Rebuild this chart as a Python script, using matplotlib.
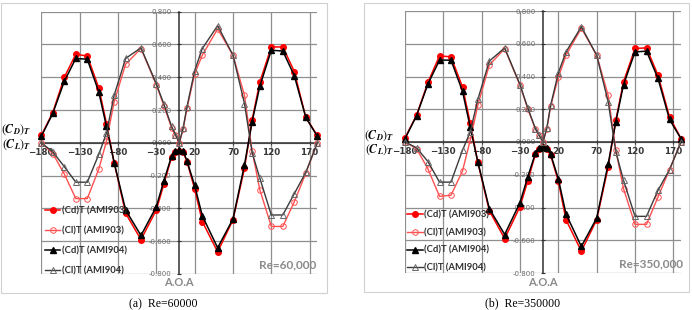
import matplotlib.pyplot as plt
from matplotlib.patches import Rectangle

plt.rcParams['mathtext.fontset'] = 'stix'

aoa = [-180, -165, -150, -135, -120, -105, -95, -85, -70, -50, -30, -20, -10, -5, 0,
       5, 10, 20, 30, 50, 70, 85, 95, 105, 120, 135, 150, 165, 180]

# Re = 60,000
cd903_a = [0.045, 0.185, 0.40, 0.54, 0.53, 0.335, 0.118, -0.12, -0.43, -0.59, -0.41, -0.25, -0.085, -0.055, -0.05,
           -0.055, -0.115, -0.28, -0.48, -0.665, -0.47, -0.155, 0.14, 0.37, 0.585, 0.585, 0.435, 0.155, 0.045]
cl903_a = [0.0, -0.065, -0.19, -0.34, -0.34, -0.16, 0.01, 0.25, 0.48, 0.575, 0.355, 0.225, 0.09, 0.045, 0.0,
           0.085, 0.21, 0.42, 0.535, 0.695, 0.535, 0.29, -0.05, -0.285, -0.51, -0.51, -0.36, -0.185, 0.0]
cd904_a = [0.04, 0.18, 0.375, 0.515, 0.51, 0.31, 0.10, -0.12, -0.41, -0.565, -0.39, -0.23, -0.08, -0.05, -0.045,
           -0.05, -0.11, -0.26, -0.445, -0.64, -0.465, -0.135, 0.13, 0.345, 0.565, 0.56, 0.41, 0.155, 0.04]
cl904_a = [0.0, -0.055, -0.145, -0.24, -0.24, -0.07, 0.06, 0.29, 0.515, 0.58, 0.36, 0.235, 0.10, 0.05, 0.0,
           0.09, 0.22, 0.44, 0.575, 0.715, 0.535, 0.24, -0.06, -0.215, -0.44, -0.44, -0.31, -0.18, 0.0]

# Re = 350,000
cd903_b = [0.025, 0.163, 0.365, 0.526, 0.52, 0.336, 0.119, -0.125, -0.42, -0.59, -0.395, -0.24, -0.075, -0.04, -0.03,
           -0.04, -0.08, -0.24, -0.475, -0.667, -0.475, -0.153, 0.133, 0.367, 0.571, 0.575, 0.408, 0.153, 0.021]
cl903_b = [0.0, -0.04, -0.165, -0.332, -0.325, -0.177, 0.01, 0.225, 0.47, 0.57, 0.347, 0.204, 0.08, 0.04, 0.0,
           0.082, 0.22, 0.394, 0.53, 0.695, 0.53, 0.285, -0.05, -0.285, -0.503, -0.503, -0.336, -0.169, 0.0]
cd904_b = [0.02, 0.16, 0.355, 0.50, 0.50, 0.31, 0.092, -0.122, -0.407, -0.565, -0.37, -0.215, -0.07, -0.035, -0.028,
           -0.035, -0.075, -0.225, -0.44, -0.638, -0.465, -0.135, 0.125, 0.35, 0.55, 0.555, 0.388, 0.138, 0.02]
cl904_b = [0.0, -0.035, -0.12, -0.245, -0.245, -0.05, 0.06, 0.26, 0.494, 0.575, 0.35, 0.21, 0.082, 0.04, 0.0,
           0.085, 0.225, 0.422, 0.55, 0.704, 0.53, 0.245, -0.06, -0.234, -0.454, -0.454, -0.295, -0.169, 0.0]

labels = ['(Cd)T (AMI903)', '(Cl)T (AMI903)', '(Cd)T (AMI904)', '(Cl)T (AMI904)']
xticks = [-180, -130, -80, -30, 20, 70, 120, 170]
yticks = [-0.8, -0.6, -0.4, -0.2, 0.0, 0.2, 0.4, 0.6, 0.8]

W, H = 692, 310
fig = plt.figure(figsize=(W / 100, H / 100), dpi=100)


def px(x, y):
    return x / W, 1 - y / H


def panel(rect, cd903, cl903, cd904, cl904, re_text, re_xy, leg_xy, leg_space):
    ax = fig.add_axes(rect)
    ax.plot(aoa, cd903, color='#ff0000', lw=1.1, marker='o', ms=4, mfc='#ff0000', mec='#ff0000',
            label=labels[0], clip_on=False, zorder=3)
    ax.plot(aoa, cl903, color='#ff5050', lw=1.0, marker='o', ms=4, mfc='none', mec='#ff5050', mew=0.7,
            label=labels[1], clip_on=False, zorder=3)
    ax.plot(aoa, cd904, color='#000000', lw=1.1, marker='^', ms=3.8, mfc='#000000', mec='#000000',
            label=labels[2], clip_on=False, zorder=4)
    ax.plot(aoa, cl904, color='#3a3a3a', lw=1.0, marker='^', ms=3.8, mfc='none', mec='#666666', mew=0.7,
            label=labels[3], clip_on=False, zorder=4)

    ax.set_xlim(-180, 180)
    ax.set_ylim(-0.8, 0.8)
    ax.set_xticks(xticks)
    ax.set_yticks(yticks)
    ax.set_yticklabels(['%.3f' % v for v in yticks])
    ax.grid(True, color='#8f8f8f', lw=0.9)
    ax.set_axisbelow(True)
    for s in ['top', 'right']:
        ax.spines[s].set_visible(False)
    ax.spines['left'].set_position(('data', 0))
    ax.spines['bottom'].set_position(('data', 0))
    ax.spines['left'].set_color('#303030')
    ax.spines['bottom'].set_color('#303030')
    ax.spines['left'].set_linewidth(1.1)
    ax.spines['bottom'].set_linewidth(1.1)
    ax.tick_params(axis='x', direction='inout', length=3, pad=2, labelsize=6.3, labelcolor='#383838',
                   color='#303030')
    ax.tick_params(axis='y', direction='inout', length=3, pad=4, labelsize=5, labelcolor='#6a6a6a',
                   color='#303030')
    for t in ax.get_xticklabels():
        t.set_fontweight('bold')
    ax.patch.set_alpha(0)

    ax.legend(loc='upper left', bbox_to_anchor=leg_xy, bbox_transform=fig.transFigure, frameon=False,
              prop={'family': 'Lato', 'size': 6.8, 'weight': 'bold'}, borderpad=0,
              borderaxespad=0, handlelength=1.6, handletextpad=0.15, labelspacing=leg_space,
              labelcolor='#303030')
    fig.text(*px(*re_xy), re_text, ha='right', va='center', fontsize=8.5,
             fontweight='bold', color='#8a8a8a', family='Lato')
    return ax


# (a) Re=60,000
l, t = px(41.3, 11.7)
_, b = px(0, 274)
panel([l, b, 276 / W, t - b], cd903_a, cl903_a, cd904_a, cl904_a, 'Re=60,000', (316, 265),
      px(45, 206.5), 1.14)

# (b) Re=350,000
l, t = px(405, 11)
_, b = px(0, 273)
panel([l, b, 276 / W, t - b], cd903_b, cl903_b, cd904_b, cl904_b, 'Re=350,000', (683, 263.5),
      px(407.5, 210.5), 0.91)

# panel frames
for x0, y0, x1, y1 in [(0.5, 3, 327, 293), (364, 3, 689, 292)]:
    fig.patches.append(Rectangle(px(x0, y1), (x1 - x0) / W, (y1 - y0) / H, transform=fig.transFigure,
                                 fill=False, ec='#d0d0d0', lw=0.8))

# axis texts
for xc, yd, yl in [(16.5, 130, 145), (379.5, 136, 150)]:
    fig.text(*px(xc, yd), r'$(\mathbfit{C_D})_{\mathbfit{T}}$', ha='center', va='center', fontsize=8.6)
    fig.text(*px(xc, yl), r'$(\mathbfit{C_L})_{\mathbfit{T}}$', ha='center', va='center', fontsize=8.6)

fig.text(*px(179, 283), 'A.O.A', ha='center', va='center', fontsize=8, fontweight='bold',
         color='#8a8a8a', family='Lato')
fig.text(*px(543, 283), 'A.O.A', ha='center', va='center', fontsize=8, fontweight='bold',
         color='#8a8a8a', family='Lato')

fig.text(*px(163, 304), '(a)  Re=60000', ha='center', va='center', fontsize=8.5, family='Liberation Serif')
fig.text(*px(523, 303), '(b)  Re=350000', ha='center', va='center', fontsize=8.5, family='Liberation Serif')

fig.savefig('out.png', dpi=100)
